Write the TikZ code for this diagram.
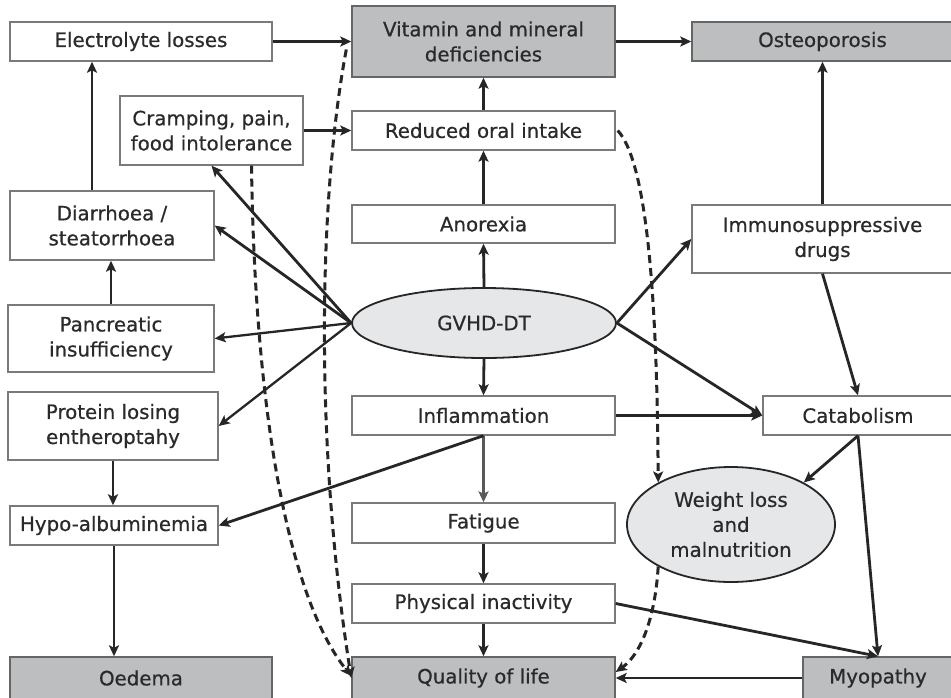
\documentclass[tikz,border=0pt]{standalone}
\usepackage{fontspec}
\setmainfont{DejaVu Sans}[BoldFont={DejaVu Sans}, BoldFeatures={FakeBold=0.6}]
\usetikzlibrary{arrows.meta,shapes.geometric}
\definecolor{ink}{HTML}{262626}
\definecolor{txt}{HTML}{2A2A2A}
\definecolor{boxline}{HTML}{7A7A7A}
\definecolor{greyfill}{HTML}{BDBEC0}
\definecolor{ovalfill}{HTML}{E6E7E8}
\tikzset{
  lbl/.style={font=\fontsize{19.8}{25}\selectfont\bfseries, text=txt, align=center, inner sep=0pt},
  wbox/.style 2 args={lbl, rectangle, draw=boxline, line width=1.4pt, fill=white,
    minimum width=#1, minimum height=#2},
  gbox/.style 2 args={wbox={#1}{#2}, fill=greyfill, draw=black!60},
  oval/.style 2 args={lbl, ellipse, draw=ink, line width=1.8pt, fill=ovalfill,
    minimum width=#1, minimum height=#2},
  arr/.style={draw=ink, line width=2.8pt, -{Stealth[length=11pt,width=10pt,inset=2.5pt]}},
  thinarr/.style={arr, line width=2.2pt, draw=black!65},
  dasharr/.style={arr, line width=3pt, dash pattern=on 8pt off 5pt}
}
\begin{document}
\begin{tikzpicture}[x=1pt,y=-1pt]
\clip (0,0) rectangle (951,697);
\fill[white] (0,0) rectangle (951,697);

% boxes of the left column
\node[wbox={262}{39}]  (elec)    at (141,41.5)  {Electrolyte losses};
\node[wbox={183}{69}]  (cramp)   at (211.5,130.5) {Cramping, pain,\\food intolerance};
\node[wbox={204}{69}]  (diarr)   at (112,225.5) {Diarrhoea /\\steatorrhoea};
\node[wbox={206}{67}]  (pancr)   at (111,338.5) {Pancreatic\\insufficiency};
\node[wbox={210}{68}]  (protein) at (113,426)   {Protein losing\\entheroptahy};
\node[wbox={208}{39}]  (hypo)    at (114,525.5) {Hypo-albuminemia};
\node[gbox={262}{42}]  (oedema)  at (141,678)   {Oedema};

% middle column
\node[gbox={263}{71}]  (vit)     at (483.5,41.5) {Vitamin and mineral\\deficiencies};
\node[wbox={263}{39}]  (oral)    at (483.5,130.5) {Reduced oral intake};
\node[wbox={263}{38}]  (anorex)  at (483.5,224) {Anorexia};
\node[oval={264}{70}]  (gvhd)    at (484,323)   {GVHD-DT};
\node[wbox={263}{39}]  (inflam)  at (483.5,415.5) {Inflammation};
\node[wbox={263}{40}]  (fatigue) at (483.5,523) {Fatigue};
\node[wbox={263}{39}]  (phys)    at (483.5,603.5) {Physical inactivity};
\node[gbox={263}{42}]  (qol)     at (483.5,678) {Quality of life};

% right column
\node[gbox={261}{39}]  (osteo)   at (822.5,41.5) {Osteoporosis};
\node[wbox={261}{68}]  (immuno)  at (822.5,239) {Immunosuppressive\\drugs};
\node[wbox={190}{39}]  (catab)   at (858,415.5) {Catabolism};
\node[oval={208}{115}] (weight)  at (731,524.5) {Weight loss\\and\\malnutrition};
\node[gbox={150}{42}]  (myo)     at (878,678)   {Myopathy};

% solid causal links
\draw[arr] (elec.east) -- (vit.west);
\draw[arr] (vit.east) -- (osteo.west);
\draw[arr] (cramp.east) -- (oral.west);
\draw[arr] (oral.north) -- (vit.south);
\draw[arr] (anorex.north) -- (oral.south);
\draw[arr] (gvhd.north) -- (anorex.south);
\draw[arr] (gvhd.south) -- (inflam.north);
\draw[arr] ([xshift=-20pt]diarr.north) -- ([xshift=-20pt]diarr.north |- elec.south);
\draw[arr] (pancr.north) -- (pancr.north |- diarr.south);
\draw[arr] (gvhd.west) -- (cramp.south);
\draw[arr] (gvhd.west) -- (diarr.east);
\draw[arr, line width=2.3pt] (gvhd.west) -- (pancr.east);
\draw[arr, line width=2.3pt] (gvhd.west) -- (protein.east);
\draw[arr] (gvhd.east) -- (immuno.west);
\draw[arr] (gvhd.east) -- (catab.west);
\draw[arr] (immuno.north) -- (immuno.north |- osteo.south);
\draw[arr] (immuno.south) -- (catab.north);
\draw[arr] (inflam.east) -- (catab.west);
\draw[thinarr] (inflam.south) -- (fatigue.north);
\draw[arr] (inflam.south) -- (hypo.east);
\draw[arr] (protein.south) -- (protein.south |- hypo.north);
\draw[arr] (hypo.south) -- (hypo.south |- oedema.north);
\draw[arr] (fatigue.south) -- (phys.north);
\draw[arr] (phys.south) -- (qol.north);
\draw[arr] (phys.east) -- (myo.north);
\draw[arr] (catab.south) -- (weight.30);
\draw[arr] (catab.south) -- (myo.north);
\draw[arr] (myo.west) -- (qol.east);

% dashed links
\draw[dasharr] ([xshift=-5pt,yshift=-8pt]vit.west) .. controls (318,200) and (315,450) .. (qol.west);
\draw[dasharr] ([xshift=40pt]cramp.south) .. controls (255,420) and (290,600) .. ([yshift=2pt]qol.west);
\draw[dasharr] ([xshift=2pt]oral.east) .. controls (645,160) and (657,280) .. (weight.150);
\draw[dasharr] (weight.210) .. controls (655,620) and (640,655) .. ([yshift=6pt]qol.east);
\end{tikzpicture}
\end{document}
